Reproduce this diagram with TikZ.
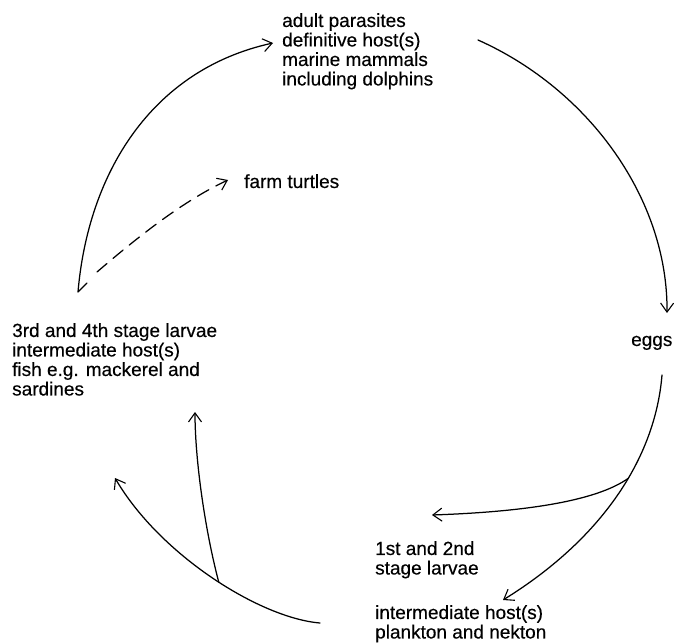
\documentclass[tikz,border=0pt]{standalone}
\usepackage{fontspec}
\setmainfont{Liberation Sans}[UprightFeatures={FakeBold=0.35}]
\usetikzlibrary{arrows.meta}
\begin{document}
\begin{tikzpicture}[x=1pt,y=-1pt,
  lbl/.style={inner sep=0pt, font=\fontsize{19}{19.5}\selectfont, align=left},
  link/.style={line width=1.25pt, line cap=round, line join=round},
  tip/.style={-{Straight Barb[length=9pt,width=13pt,line width=1.1pt]}},
]
\useasboundingbox (0,0) rectangle (674,644);

% texts
\node[lbl, anchor=north west] (adult) at (282,13) {adult parasites\\definitive host(s)\\marine mammals\\including dolphins};
\node[lbl, anchor=base west] (turtles) at (244,188) {farm turtles};
\node[lbl, anchor=base west] (eggs) at (631,346) {eggs};
\node[lbl, anchor=north west] (fish) at (12,323) {3rd and 4th stage larvae\\intermediate host(s)\\fish e.g. mackerel and\\sardines};
\node[lbl, anchor=north west] (larvae) at (375,541) {1st and 2nd\\stage larvae};
\node[lbl, anchor=north west] (plankton) at (375,605) {intermediate host(s)\\plankton and nekton};

% connector ends
\coordinate (fishHook) at (87,283);
\coordinate (fishOut) at (78,292);
\coordinate (adultIn) at (273,43);
\coordinate (dashStart) at (97,272);
\coordinate (turtleIn) at (228,180);
\coordinate (adultOut) at (478,40);
\coordinate (eggsIn) at (667,313);
\coordinate (eggsOut) at (662,375);
\coordinate (planktonIn) at (503,600);
\coordinate (larvaeIn) at (432,515);
\coordinate (planktonOut) at (320,623);
\coordinate (fishInA) at (115,478);
\coordinate (fishInB) at (195,412);

% connectors
\draw[link, tip] (fishHook) -- (fishOut) .. controls (88,175) and (150,70) .. (adultIn);
\draw[link, tip, dash pattern=on 13pt off 8pt] (dashStart) .. controls (140,235) and (185,200) .. (turtleIn);
\draw[link, tip] (adultOut) .. controls (590,90) and (668,200) .. (eggsIn);
\draw[link, tip] (eggsOut) .. controls (655,460) and (600,540) .. (planktonIn) coordinate[pos=0.42] (splitA);
\draw[link, tip] (splitA) .. controls (595,502) and (520,512) .. (larvaeIn);
\draw[link, tip] (planktonOut) .. controls (260,618) and (160,555) .. (fishInA) coordinate[pos=0.47] (splitB);
\draw[link, tip] (splitB) .. controls (205,530) and (195,460) .. (fishInB);
\end{tikzpicture}
\end{document}
